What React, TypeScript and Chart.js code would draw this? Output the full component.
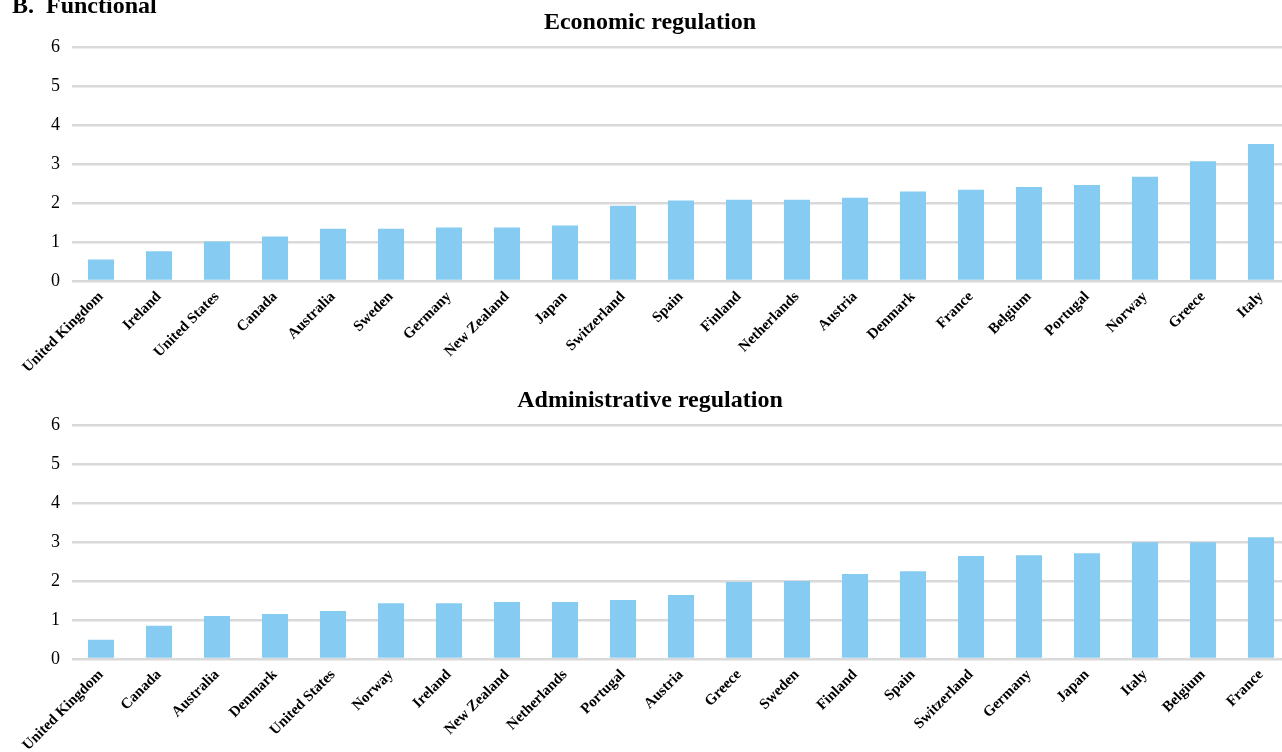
import React, { useEffect, useRef } from "react";
import { Chart, registerables } from "chart.js";

Chart.register(...registerables);

const economicCountries = [
  "United Kingdom", "Ireland", "United States", "Canada", "Australia", "Sweden", "Germany",
  "New Zealand", "Japan", "Switzerland", "Spain", "Finland", "Netherlands", "Austria",
  "Denmark", "France", "Belgium", "Portugal", "Norway", "Greece", "Italy",
];
const economicValues = [
  0.55, 0.76, 1.01, 1.14, 1.34, 1.34, 1.37, 1.37, 1.42, 1.93, 2.06, 2.08, 2.08, 2.13,
  2.29, 2.34, 2.41, 2.46, 2.67, 3.07, 3.51,
];

const adminCountries = [
  "United Kingdom", "Canada", "Australia", "Denmark", "United States", "Norway", "Ireland",
  "New Zealand", "Netherlands", "Portugal", "Austria", "Greece", "Sweden", "Finland",
  "Spain", "Switzerland", "Germany", "Japan", "Italy", "Belgium", "France",
];
const adminValues = [
  0.49, 0.85, 1.10, 1.15, 1.23, 1.43, 1.43, 1.46, 1.46, 1.51, 1.64, 1.97, 2.00, 2.18,
  2.25, 2.64, 2.66, 2.71, 2.99, 2.99, 3.12,
];

const yTicks = [0, 1, 2, 3, 4, 5, 6];

const SERIF = "'Liberation Serif', 'Times New Roman', serif";
const BAR_COLOR = "#86ccf2";
const W = 1300;
const H = 378;

function BarPanel({ title, labels, values }: { title: string; labels: string[]; values: number[] }) {
  const ref = useRef<HTMLCanvasElement | null>(null);
  useEffect(() => {
    if (!ref.current) return;
    const chart = new Chart(ref.current, {
      type: "bar",
      data: {
        labels,
        datasets: [
          {
            data: values,
            backgroundColor: BAR_COLOR,
            borderWidth: 0,
            barPercentage: 0.45,
            categoryPercentage: 1,
          },
        ],
      },
      options: {
        responsive: false,
        animation: false,
        layout: { padding: { left: 10, right: 10, top: 0, bottom: 0 } },
        plugins: {
          legend: { display: false },
          tooltip: { enabled: false },
          title: {
            display: true,
            text: title,
            color: "#000",
            font: { family: SERIF, size: 24, weight: "bold", lineHeight: 1.2 },
            padding: { top: 8, bottom: 10 },
          },
        },
        scales: {
          x: {
            grid: { display: false, drawTicks: false },
            border: { display: false },
            ticks: {
              autoSkip: false,
              maxRotation: 45,
              minRotation: 45,
              padding: 7,
              color: "#000",
              font: { family: SERIF, size: 15, weight: "bold" },
            },
            afterFit: (scale: any) => {
              scale.height = 97;
            },
          },
          y: {
            min: 0,
            max: 6,
            afterBuildTicks: (scale: any) => {
              scale.ticks = yTicks.map((v) => ({ value: v }));
            },
            grid: { color: "#d9d9d9", lineWidth: 2.5, drawTicks: false },
            border: { display: false },
            ticks: {
              padding: 12,
              color: "#000",
              font: { family: SERIF, size: 18 },
            },
            afterFit: (scale: any) => {
              scale.width = 62;
            },
          },
        },
      },
    });
    return () => chart.destroy();
  }, [title, labels, values]);
  return <canvas ref={ref} width={W} height={H} style={{ width: W, height: H, display: "block" }} />;
}

export default function App() {
  return (
    <div
      style={{
        position: "absolute",
        left: 0,
        top: 0,
        width: 1282,
        height: 752,
        overflow: "hidden",
        background: "#fff",
      }}
    >
      <div style={{ position: "absolute", left: 0, top: 0 }}>
        <BarPanel title="Economic regulation" labels={economicCountries} values={economicValues} />
      </div>
      <div style={{ position: "absolute", left: 0, top: H }}>
        <BarPanel title="Administrative regulation" labels={adminCountries} values={adminValues} />
      </div>
      <div
        style={{
          position: "absolute",
          left: 12,
          top: -7,
          fontFamily: SERIF,
          fontWeight: "bold",
          fontSize: 24,
          lineHeight: "24px",
          whiteSpace: "nowrap",
          zIndex: 2,
        }}
      >
        B.&nbsp; Functional
      </div>
    </div>
  );
}
